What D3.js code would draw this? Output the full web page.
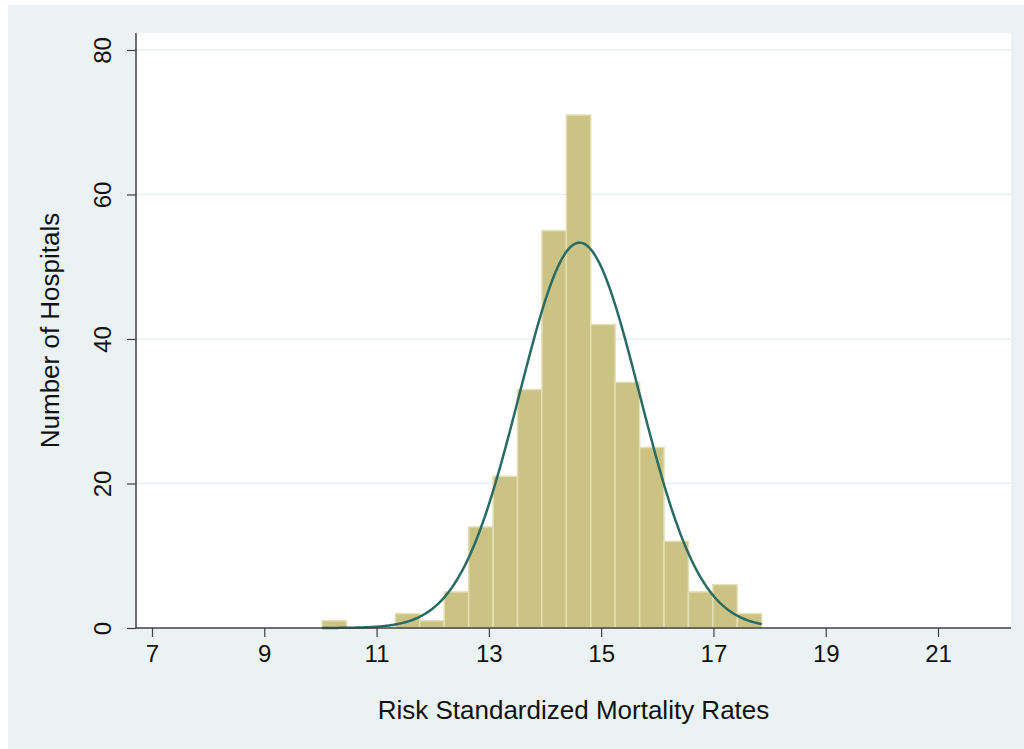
<!DOCTYPE html>
<html>
<head>
<script src="https://d3js.org/d3.v7.min.js"></script>
<style>
  body { margin: 0; background: #ffffff; }
  text { font-family: "Liberation Sans", Arial, sans-serif; fill: #111; }
</style>
</head>
<body>
<svg id="chart" width="1024" height="749"></svg>
<script>
// histogram bins (start of first bin, bin width) and counts
var binStart = 10.03;
var binWidth = 0.435;
var counts = [1, 0, 0, 2, 1, 5, 14, 21, 33, 55, 71, 42, 34, 25, 12, 5, 6, 2];
var xTicks = [7, 9, 11, 13, 15, 17, 19, 21];
var yTicks = [0, 20, 40, 60, 80];

var svg = d3.select("#chart");

// margins / plot box
var plot = { left: 136, right: 1011, top: 33, bottom: 628 };

svg.append("rect")
    .attr("x", 8).attr("y", 5)
    .attr("width", 1016).attr("height", 744)
    .attr("fill", "#eaf2f3");

svg.append("rect")
    .attr("x", plot.left).attr("y", plot.top)
    .attr("width", plot.right - plot.left).attr("height", plot.bottom - plot.top)
    .attr("fill", "#ffffff");

var x = d3.scaleLinear().domain([6.715, 22.30]).range([plot.left, plot.right]);
var y = d3.scaleLinear().domain([0, 82.35]).range([plot.bottom, plot.top]);

// grid
svg.selectAll(".grid")
    .data(yTicks.filter(function (d) { return d > 0; }))
    .enter().append("line")
    .attr("x1", plot.left).attr("x2", plot.right)
    .attr("y1", function (d) { return y(d); })
    .attr("y2", function (d) { return y(d); })
    .attr("stroke", "#e6eff1")
    .attr("stroke-width", 1.5);

// bars
var bins = counts.map(function (c, i) {
    return { x0: binStart + i * binWidth, x1: binStart + (i + 1) * binWidth, n: c };
});

svg.selectAll(".bar")
    .data(bins.filter(function (d) { return d.n > 0; }))
    .enter().append("rect")
    .attr("x", function (d) { return x(d.x0); })
    .attr("width", function (d) { return x(d.x1) - x(d.x0); })
    .attr("y", function (d) { return y(d.n); })
    .attr("height", function (d) { return y(0) - y(d.n); })
    .attr("fill", "#cbc383")
    .attr("stroke", "#e4dfb4")
    .attr("stroke-width", 1.5);

// fitted normal curve (mean/sd from the binned data)
var total = d3.sum(bins, function (d) { return d.n; });
var mean = d3.sum(bins, function (d) { return d.n * (d.x0 + d.x1) / 2; }) / total;
var sd = Math.sqrt(d3.sum(bins, function (d) {
    var m = (d.x0 + d.x1) / 2;
    return d.n * (m - mean) * (m - mean);
}) / total);

var xEnd = binStart + counts.length * binWidth;
var curveX = d3.range(binStart, xEnd, 0.02).concat([xEnd]);
var dens = function (v) {
    return total * binWidth / (sd * Math.sqrt(2 * Math.PI)) * Math.exp(-0.5 * Math.pow((v - mean) / sd, 2));
};

svg.append("path")
    .datum(curveX)
    .attr("fill", "none")
    .attr("stroke", "#2a6b63")
    .attr("stroke-width", 2.5)
    .attr("d", d3.line()
        .x(function (d) { return x(d); })
        .y(function (d) { return y(dens(d)); }));

// axes
var xAxis = svg.append("g")
    .attr("transform", "translate(0," + plot.bottom + ")")
    .call(d3.axisBottom(x).tickValues(xTicks).tickSize(9).tickPadding(8).tickFormat(d3.format("d")));
xAxis.select(".domain").attr("d", "M" + plot.left + ",0H" + plot.right)
    .attr("stroke", "#404040").attr("stroke-width", 1.5);
xAxis.selectAll(".tick line").attr("stroke", "#404040").attr("stroke-width", 1.2);
xAxis.selectAll(".tick text")
    .style("font-family", "'Liberation Sans', Arial, sans-serif")
    .style("font-size", "24px").attr("fill", "#111");

var yAxis = svg.append("g")
    .attr("transform", "translate(" + plot.left + ",0)")
    .call(d3.axisLeft(y).tickValues(yTicks).tickSize(9).tickFormat(d3.format("d")));
yAxis.select(".domain").attr("d", "M0," + plot.top + "V" + plot.bottom)
    .attr("stroke", "#404040").attr("stroke-width", 1.5);
yAxis.selectAll(".tick line").attr("stroke", "#404040").attr("stroke-width", 1.2);
yAxis.selectAll(".tick text")
    .attr("x", null).attr("dy", null)
    .attr("text-anchor", "middle")
    .attr("dominant-baseline", "central")
    .attr("transform", "translate(-34,0) rotate(-90)")
    .style("font-family", "'Liberation Sans', Arial, sans-serif")
    .style("font-size", "24px").attr("fill", "#111");

// titles
svg.append("text")
    .attr("x", (plot.left + plot.right) / 2)
    .attr("y", 719)
    .attr("text-anchor", "middle")
    .style("font-size", "26px")
    .text("Risk Standardized Mortality Rates");

svg.append("text")
    .attr("transform", "translate(59," + (plot.top + plot.bottom) / 2 + ") rotate(-90)")
    .attr("text-anchor", "middle")
    .style("font-size", "26px")
    .text("Number of Hospitals");
</script>
</body>
</html>
